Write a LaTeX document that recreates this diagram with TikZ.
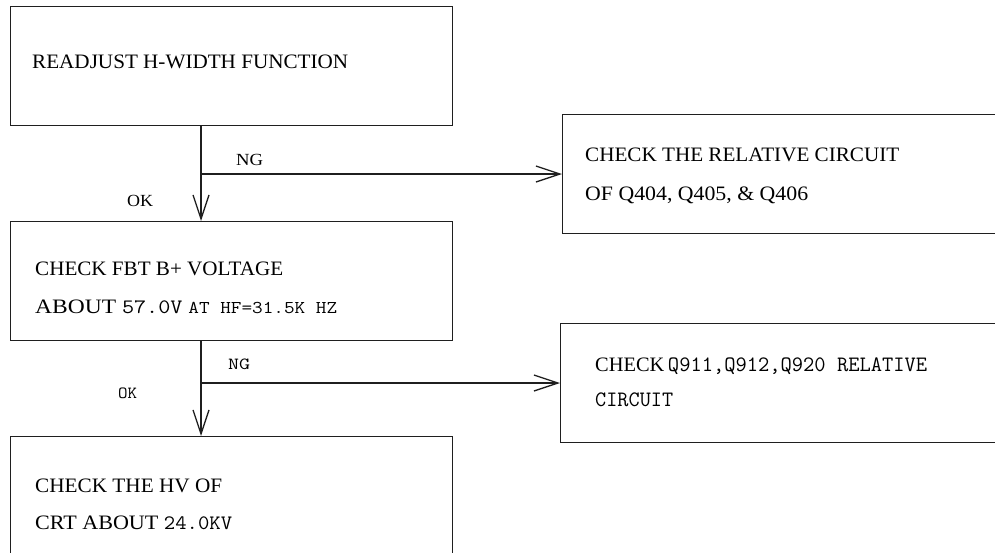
\documentclass[tikz,border=0pt]{standalone}
\usepackage{graphicx}
\usepackage{fontspec}
\setmainfont{Liberation Serif}
\newcommand{\monofnt}{\ttfamily}
\usetikzlibrary{arrows.meta}

% Fit a line of text to a given width, keeping its height
\newcommand{\fitw}[2]{\resizebox{#1}{\height}{#2}}

\begin{document}
\begin{tikzpicture}[x=1pt,y=-1pt,
  box/.style={draw=black!88, line width=1.4pt, rectangle, inner sep=0pt, anchor=north west},
  txt/.style={anchor=base west, inner sep=0pt, font=\fontsize{20.5}{24}\selectfont},
  lbl/.style={anchor=base west, inner sep=0pt, font=\fontsize{17}{20}\selectfont},
  link/.style={draw=black!88, line width=1.3pt},
  flow/.style={link, -{Straight Barb[length=24pt,width=16pt,line width=1.3pt]}}
]
\useasboundingbox (0,0) rectangle (995,552);
\clip (0,0) rectangle (995,552);
\fill[white] (0,0) rectangle (995,552);

% process boxes
\node[box, minimum width=442pt, minimum height=119pt] (b1) at (10,6) {};
\node[box, minimum width=442pt, minimum height=119pt] (b2) at (10,221) {};
\node[box, minimum width=450pt, minimum height=119pt] (b3) at (562,114) {};
\node[box, minimum width=450pt, minimum height=119pt] (b4) at (560,323) {};
\node[box, minimum width=442pt, minimum height=130pt] (b5) at (10,436) {};

% box texts
\node[txt] (t1) at (32,68) {\fitw{316pt}{READJUST H-WIDTH FUNCTION}};
\node[txt] (t2a) at (35,275) {\fitw{248pt}{CHECK FBT B+ VOLTAGE}};
\node[txt] (t2b) at (35,313) {\fitw{302pt}{ABOUT {\monofnt 57.0V} {\monofnt\fontsize{18}{20}\selectfont AT HF=31.5K HZ}}};
\node[txt] (t3a) at (585,161) {\fitw{314pt}{CHECK THE RELATIVE CIRCUIT}};
\node[txt] (t3b) at (585,200) {\fitw{223pt}{OF Q404, Q405, \& Q406}};
\node[txt] (t4a) at (595,371) {\fitw{332pt}{CHECK{\monofnt\fontsize{22}{24}\selectfont\,Q911,Q912,Q920 RELATIVE}}};
\node[txt] (t4b) at (595,406) {\fitw{78pt}{\monofnt\fontsize{22}{24}\selectfont CIRCUIT}};
\node[txt] (t5a) at (35,492) {\fitw{187pt}{CHECK THE HV OF}};
\node[txt] (t5b) at (35,529) {\fitw{197pt}{CRT ABOUT {\monofnt 24.0KV}}};

% branch points
\coordinate (j1) at (201,174);
\coordinate (j2) at (201,383);

% connectors
\draw[link] (b1.south -| j1) -- (j1);
\draw[flow] (j1) -- (b2.north -| j1);
\draw[flow] (j1) -- (b3.west |- j1);
\draw[link] (b2.south -| j1) -- (j2);
\draw[flow] (j2) -- (b5.north -| j2);
\draw[flow] (j2) -- (b4.west |- j2);

% branch labels
\node[lbl] (ng1) at (236,165) {\fitw{27pt}{NG}};
\node[lbl] (ok1) at (127,206) {\fitw{26pt}{OK}};
\node[lbl] (ng2) at (228,369) {\fitw{22pt}{\monofnt NG}};
\node[lbl] (ok2) at (118,398) {\fitw{19pt}{\monofnt OK}};
\end{tikzpicture}
\end{document}
